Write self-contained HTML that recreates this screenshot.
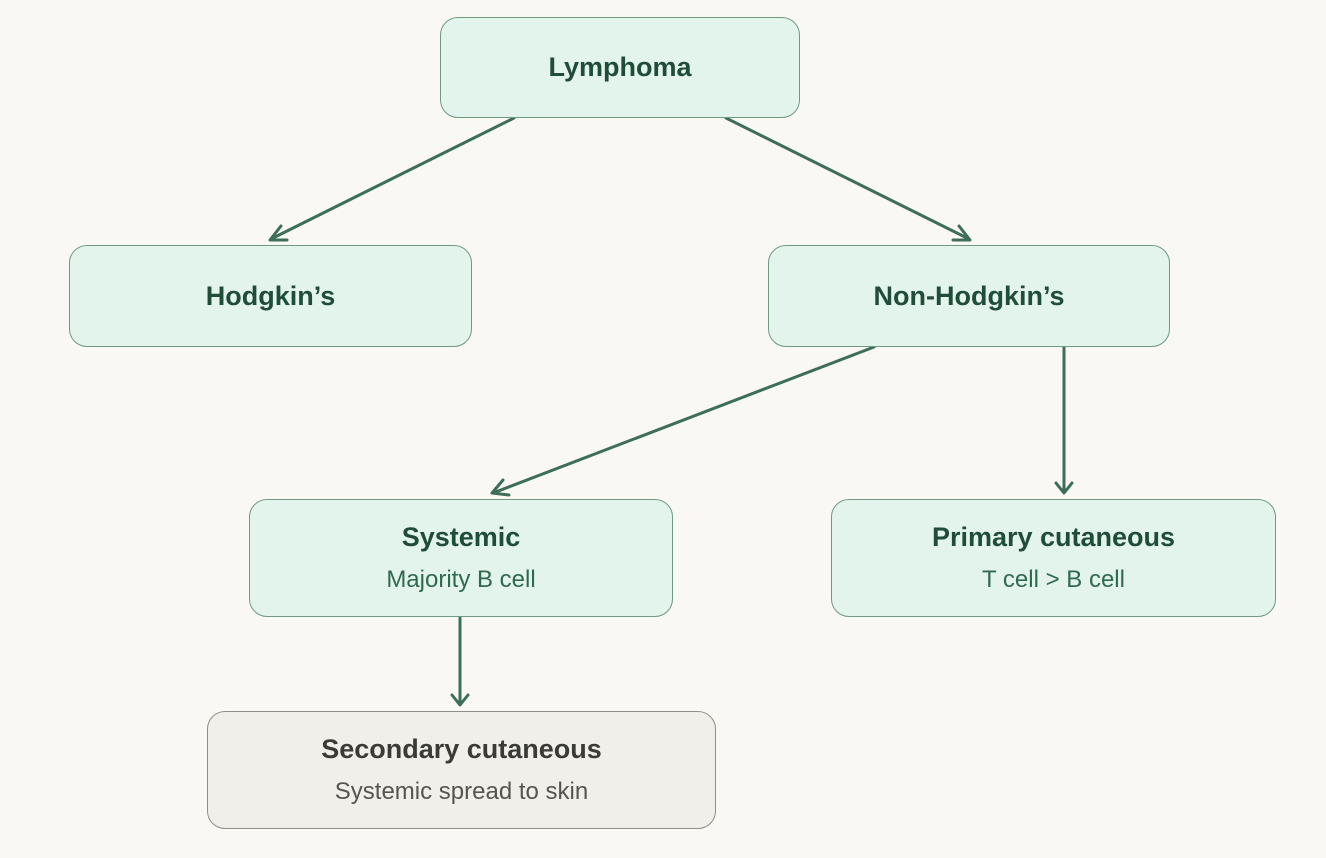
<!DOCTYPE html>
<html><head><meta charset="utf-8"><style>
html,body{margin:0;padding:0;background:#f9f8f4;}
body{width:1326px;height:858px;position:relative;overflow:hidden;font-family:"Liberation Sans",sans-serif;}
.b{position:absolute;box-sizing:border-box;background:#e3f4ec;border:1.5px solid #6e9a82;border-radius:18px;display:flex;flex-direction:column;align-items:center;justify-content:center;color:#1f4d3a;}
.t{font-size:27px;font-weight:bold;}
.s{font-size:24px;color:#2f6a50;margin-top:13px;}
.g{background:#f1efea;border-color:#8f8f86;color:#3a3a36;}
.g .s{color:#55554f;}
svg{position:absolute;left:0;top:0;}
</style></head><body>
<svg width="1326" height="858">
<g stroke="#3d6e58" stroke-width="3" fill="none" stroke-linecap="round" stroke-linejoin="round">
<line x1="514" y1="118" x2="271" y2="239"/><polyline points="281,226 270,240 287,240"/>
<line x1="726" y1="118" x2="969" y2="239"/><polyline points="953,240 970,240 959,226"/>
<line x1="874" y1="347" x2="493" y2="493"/><polyline points="503,480 492,493 509,495"/>
<line x1="1064" y1="347" x2="1064" y2="492"/><polyline points="1056,483 1064,493 1072,483"/>
<line x1="460" y1="618" x2="460" y2="704"/><polyline points="452,695 460,705 468,695"/>
</g></svg>
<div class="b" style="left:440px;top:17px;width:360px;height:101px"><div class="t">Lymphoma</div></div>
<div class="b" style="left:69px;top:245px;width:403px;height:102px"><div class="t">Hodgkin’s</div></div>
<div class="b" style="left:768px;top:245px;width:402px;height:102px"><div class="t">Non-Hodgkin’s</div></div>
<div class="b" style="left:249px;top:499px;width:424px;height:118px"><div class="t">Systemic</div><div class="s">Majority B cell</div></div>
<div class="b" style="left:831px;top:499px;width:445px;height:118px"><div class="t">Primary cutaneous</div><div class="s">T cell &gt; B cell</div></div>
<div class="b g" style="left:207px;top:711px;width:509px;height:118px"><div class="t">Secondary cutaneous</div><div class="s">Systemic spread to skin</div></div>
</body></html>
